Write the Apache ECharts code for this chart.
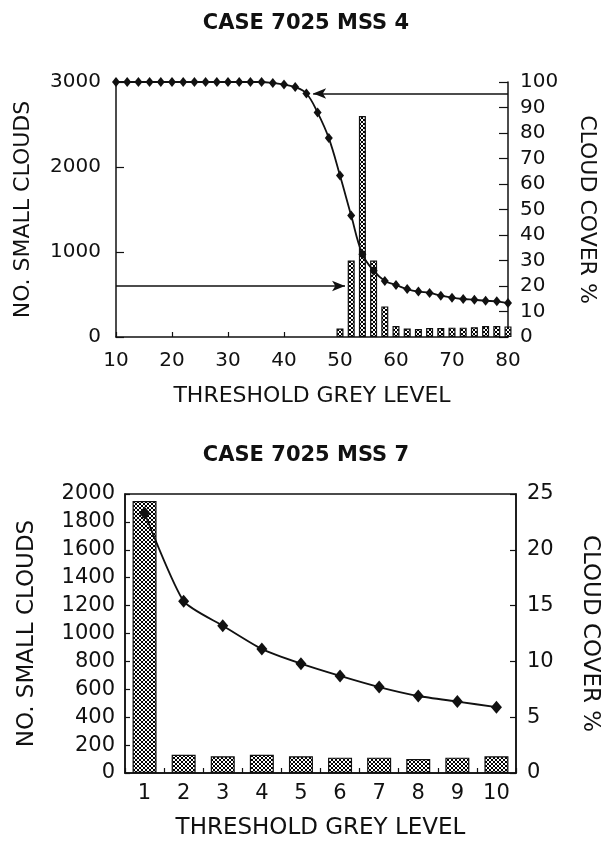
<!DOCTYPE html>
<html>
<head>
<meta charset="utf-8">
<script src="https://cdn.jsdelivr.net/npm/echarts@6/dist/echarts.min.js"></script>
<style>
  html, body { margin: 0; padding: 0; background: #fff; }
  #chart { width: 612px; height: 843px; }
</style>
</head>
<body>
<div id="chart"></div>
<script>
// MSS 4 - cloud cover curve (every 2 grey levels)
const coverLevels4 = [10, 12, 14, 16, 18, 20, 22, 24, 26, 28, 30, 32, 34, 36, 38, 40, 42, 44,
  46, 48, 50, 52, 54, 56, 58, 60, 62, 64, 66, 68, 70, 72, 74, 76, 78, 80]
const cover4 = [100, 100, 100, 100, 100, 100, 100, 100, 100, 100, 100, 100, 100, 100, 99.6, 99, 98, 95.5,
  88, 78, 63.3, 47.6, 32.5, 26, 22, 20.4, 18.8, 17.8, 17.3, 16.2, 15.4, 14.9, 14.6, 14.2, 14, 13.3]
// MSS 4 - number of small clouds (bars)
const barLevels4 = [50, 52, 54, 56, 58, 60, 62, 64, 66, 68, 70, 72, 74, 76, 78, 80]
const clouds4 = [100, 900, 2600, 900, 360, 130, 100, 95, 105, 105, 110, 110, 115, 130, 130, 125]
// arrows on the MSS 4 panel: [from, to] as [level, value]
const arrowClouds4 = [[10, 600], [50.9, 600]]
const arrowCover4 = [[80, 95.5], [45.2, 95.5]]

// MSS 7
const levels7 = ['1', '2', '3', '4', '5', '6', '7', '8', '9', '10']
const clouds7 = [1950, 130, 120, 130, 120, 110, 110, 100, 110, 120]
const cover7 = [23.3, 15.4, 13.2, 11.1, 9.8, 8.7, 7.7, 6.9, 6.4, 5.9]

const FONT = 'DejaVu Sans'
const INK = '#111'

// cross hatch used for the bars
function hatch() {
  const c = document.createElement('canvas')
  c.width = 4
  c.height = 4
  const ctx = c.getContext('2d')
  ctx.fillStyle = '#fff'
  ctx.fillRect(0, 0, 4, 4)
  ctx.strokeStyle = '#000'
  ctx.lineWidth = 1
  ctx.beginPath()
  ctx.moveTo(0, 0); ctx.lineTo(4, 4)
  ctx.moveTo(4, 0); ctx.lineTo(0, 4)
  ctx.stroke()
  return c
}
const hatchFill = { image: hatch(), repeat: 'repeat' }

function axisStyle(tickLen, fontSize, margin) {
  return {
    axisLine: { show: true, onZero: false, lineStyle: { color: INK, width: 1.5 } },
    axisTick: { show: true, inside: true, length: tickLen, lineStyle: { color: INK, width: 1.2 } },
    axisLabel: {
      color: INK,
      fontFamily: FONT,
      fontSize: fontSize,
      margin: margin,
      formatter: v => String(v) // no thousands separator
    },
    splitLine: { show: false },
    nameTextStyle: { color: INK, fontFamily: FONT, fontSize: fontSize + 2 }
  }
}

const titleStyle = { fontFamily: FONT, fontWeight: 'bold', fontSize: 21, color: INK }

const option = {
  animation: false,
  backgroundColor: '#fff',
  title: [
    { text: 'CASE 7025 MSS 4', left: 'center', top: 8, textStyle: titleStyle },
    { text: 'CASE 7025 MSS 7', left: 'center', top: 440, textStyle: titleStyle }
  ],
  grid: [
    { left: 116, right: 104, top: 82, bottom: 506 },
    { left: 125, right: 96, top: 494, bottom: 70, show: true, borderColor: INK, borderWidth: 1.5 }
  ],
  xAxis: [
    Object.assign(axisStyle(5, 20, 14), {
      type: 'value',
      gridIndex: 0,
      min: 10,
      max: 80,
      interval: 10,
      name: 'THRESHOLD GREY LEVEL',
      nameLocation: 'middle',
      nameGap: 48
    }),
    Object.assign(axisStyle(5, 21, 10), {
      type: 'category',
      gridIndex: 1,
      data: levels7,
      name: 'THRESHOLD GREY LEVEL',
      nameLocation: 'middle',
      nameGap: 44
    })
  ],
  yAxis: [
    Object.assign(axisStyle(8, 20, 15), {
      type: 'value',
      gridIndex: 0,
      min: 0,
      max: 3000,
      interval: 1000,
      name: 'NO. SMALL CLOUDS',
      nameLocation: 'middle',
      nameGap: 82
    }),
    Object.assign(axisStyle(9, 20, 12), {
      type: 'value',
      gridIndex: 0,
      position: 'right',
      min: 0,
      max: 100,
      interval: 10,
      name: 'CLOUD COVER %',
      nameLocation: 'middle',
      nameRotate: -90,
      nameGap: 68
    }),
    Object.assign(axisStyle(5, 21, 10), {
      type: 'value',
      gridIndex: 1,
      min: 0,
      max: 2000,
      interval: 200,
      name: 'NO. SMALL CLOUDS',
      nameLocation: 'middle',
      nameGap: 86
    }),
    Object.assign(axisStyle(6, 21, 11), {
      type: 'value',
      gridIndex: 1,
      position: 'right',
      min: 0,
      max: 25,
      interval: 5,
      name: 'CLOUD COVER %',
      nameLocation: 'middle',
      nameRotate: -90,
      nameGap: 62
    })
  ],
  series: [
    {
      name: 'clouds4',
      type: 'bar',
      xAxisIndex: 0,
      yAxisIndex: 0,
      barWidth: 7,
      clip: false,
      data: barLevels4.map((x, i) => [x, clouds4[i]]),
      itemStyle: { color: hatchFill, borderColor: INK, borderWidth: 1.2 },
      markLine: {
        silent: true,
        symbol: ['none', 'arrow'],
        symbolSize: [8, 13],
        label: { show: false },
        lineStyle: { color: INK, width: 1.5, type: 'solid' },
        data: [[{ coord: arrowClouds4[0] }, { coord: arrowClouds4[1] }]]
      }
    },
    {
      name: 'cover4',
      type: 'line',
      xAxisIndex: 0,
      yAxisIndex: 1,
      smooth: 0.4,
      clip: false,
      symbol: 'diamond',
      symbolSize: [8, 10],
      data: coverLevels4.map((x, i) => [x, cover4[i]]),
      itemStyle: { color: INK },
      lineStyle: { color: INK, width: 1.8 },
      markLine: {
        silent: true,
        symbol: ['none', 'arrow'],
        symbolSize: [8, 13],
        label: { show: false },
        lineStyle: { color: INK, width: 1.5, type: 'solid' },
        data: [[{ coord: arrowCover4[0] }, { coord: arrowCover4[1] }]]
      }
    },
    {
      name: 'clouds7',
      type: 'bar',
      xAxisIndex: 1,
      yAxisIndex: 2,
      barWidth: 24,
      data: clouds7,
      itemStyle: { color: hatchFill, borderColor: INK, borderWidth: 1.2 }
    },
    {
      name: 'cover7',
      type: 'line',
      xAxisIndex: 1,
      yAxisIndex: 3,
      smooth: 0.2,
      symbol: 'diamond',
      symbolSize: [11, 13],
      data: cover7,
      itemStyle: { color: INK },
      lineStyle: { color: INK, width: 1.8 }
    }
  ]
}

const myChart = echarts.init(document.getElementById('chart'), null, { renderer: 'canvas' })
myChart.setOption(option)
</script>
</body>
</html>
